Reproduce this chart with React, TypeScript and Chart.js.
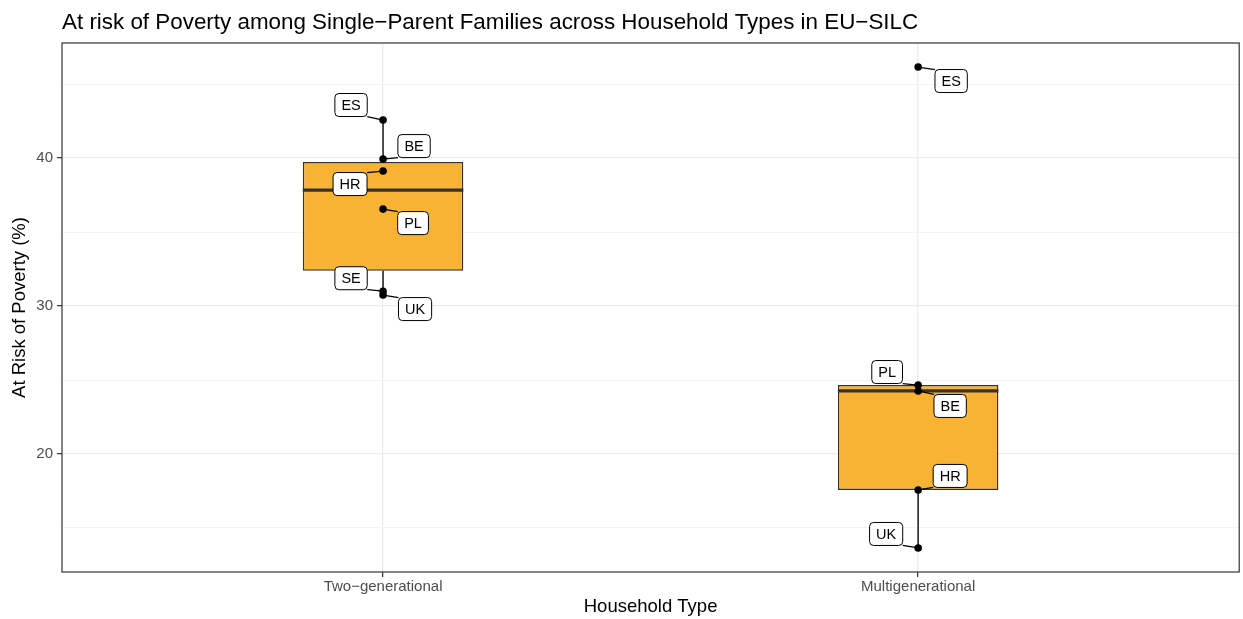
import React, { useEffect, useRef } from "react";
import { Chart, registerables } from "chart.js";

Chart.register(...registerables);

// Household types on the x axis (positions 1 and 2)
const householdTypes = ["Two\u2212generational", "Multigenerational"];

// At-risk-of-poverty rate (%) per country, two-generational households
const twoGenCountries = ["ES", "BE", "HR", "PL", "SE", "UK"];
const twoGenValues = [42.57, 39.93, 39.12, 36.55, 31.0, 30.74];

// At-risk-of-poverty rate (%) per country, multigenerational households
const multiGenCountries = ["ES", "PL", "BE", "HR", "UK"];
const multiGenValues = [46.15, 24.66, 24.26, 17.57, 13.65];

// y-axis breaks: labelled every 10, minor grid every 5
const yBreaks = [15, 20, 25, 30, 35, 40, 45];
const yLabelStep = 10;

// Label nudges (px) for each country label, in the same order as the values
const twoGenLabelNudge = [[-32, -15], [31, -13], [-33, 13], [30, 14], [-32, -13], [32, 14]];
const multiGenLabelNudge = [[33, 14], [-31, -13], [32, 15], [32, -14], [-32, -14]];

const FONT = "'Liberation Sans', Arial, Helvetica, sans-serif";
const BOX_WIDTH = 0.3;
const BOX_FILL = "#F8B234";
const DARK = "#333333";

// Type-7 quantile (same as R's default)
function quantile(sorted: number[], p: number): number {
  const h = (sorted.length - 1) * p;
  const lo = Math.floor(h);
  const hi = Math.ceil(h);
  return sorted[lo] + (h - lo) * (sorted[hi] - sorted[lo]);
}

function boxStats(values: number[]) {
  const s = [...values].sort((a, b) => a - b);
  const q1 = quantile(s, 0.25);
  const med = quantile(s, 0.5);
  const q3 = quantile(s, 0.75);
  const iqr = q3 - q1;
  const inside = s.filter((v) => v >= q1 - 1.5 * iqr && v <= q3 + 1.5 * iqr);
  return { q1, med, q3, lo: Math.min(...inside), hi: Math.max(...inside) };
}

export default function App() {
  const canvasRef = useRef<HTMLCanvasElement | null>(null);

  useEffect(() => {
    if (!canvasRef.current) return;

    const groups = [
      { x: 1, countries: twoGenCountries, values: twoGenValues, nudge: twoGenLabelNudge },
      { x: 2, countries: multiGenCountries, values: multiGenValues, nudge: multiGenLabelNudge },
    ];
    const stats = groups.map((g) => boxStats(g.values));

    const allValues = [...twoGenValues, ...multiGenValues];
    const yLo = Math.min(...allValues);
    const yHi = Math.max(...allValues);
    const yPad = (yHi - yLo) * 0.05;

    const boxData = groups.map((g, i) => ({ x: g.x, y: [stats[i].q1, stats[i].q3] }));

    const whiskerData: any[] = [];
    groups.forEach((g, i) => {
      whiskerData.push({ x: g.x, y: stats[i].hi }, { x: g.x, y: stats[i].q3 }, { x: g.x, y: null });
      whiskerData.push({ x: g.x, y: stats[i].q1 }, { x: g.x, y: stats[i].lo }, { x: g.x, y: null });
    });

    const medianData: any[] = [];
    groups.forEach((g, i) => {
      medianData.push(
        { x: g.x - BOX_WIDTH / 2, y: stats[i].med },
        { x: g.x + BOX_WIDTH / 2, y: stats[i].med },
        { x: g.x, y: null }
      );
    });

    const pointData: any[] = [];
    groups.forEach((g) => {
      g.values.forEach((v, j) => {
        pointData.push({ x: g.x, y: v, country: g.countries[j], nudge: g.nudge[j] });
      });
    });

    const titlePlugin = {
      id: "plotTitle",
      afterDraw(chart: any) {
        const { ctx, chartArea } = chart;
        ctx.save();
        ctx.font = `22.4px ${FONT}`;
        ctx.fillStyle = "#000000";
        ctx.textAlign = "left";
        ctx.textBaseline = "alphabetic";
        ctx.fillText(
          "At risk of Poverty among Single\u2212Parent Families across Household Types in EU\u2212SILC",
          chartArea.left,
          29
        );
        ctx.restore();
      },
    };

    const panelBorderPlugin = {
      id: "panelBorder",
      afterDraw(chart: any) {
        const { ctx, chartArea } = chart;
        ctx.save();
        ctx.strokeStyle = DARK;
        ctx.lineWidth = 1.2;
        ctx.strokeRect(
          chartArea.left,
          chartArea.top,
          chartArea.right - chartArea.left,
          chartArea.bottom - chartArea.top
        );
        ctx.restore();
      },
    };

    const repelLabelPlugin = {
      id: "countryLabels",
      afterDatasetsDraw(chart: any) {
        const { ctx } = chart;
        const meta = chart.getDatasetMeta(0);
        const data = chart.data.datasets[0].data as any[];
        ctx.save();
        ctx.font = `14.5px ${FONT}`;
        meta.data.forEach((el: any, i: number) => {
          const d = data[i];
          const px = el.x;
          const py = el.y;
          const cx = px + d.nudge[0];
          const cy = py + d.nudge[1];
          const w = ctx.measureText(d.country).width + 13;
          const h = 23;
          const left = cx - w / 2;
          const top = cy - h / 2;
          // leader segment to the nearest edge point of the label box
          const ex = Math.max(left, Math.min(px, left + w));
          const ey = Math.max(top, Math.min(py, top + h));
          ctx.beginPath();
          ctx.moveTo(px, py);
          ctx.lineTo(ex, ey);
          ctx.strokeStyle = "#000000";
          ctx.lineWidth = 1.3;
          ctx.stroke();
          // label box
          ctx.beginPath();
          ctx.roundRect(left, top, w, h, 4);
          ctx.fillStyle = "#FFFFFF";
          ctx.fill();
          ctx.strokeStyle = "#000000";
          ctx.lineWidth = 1;
          ctx.stroke();
          ctx.fillStyle = "#000000";
          ctx.textAlign = "center";
          ctx.textBaseline = "middle";
          ctx.fillText(d.country, cx, cy + 1);
        });
        ctx.restore();
      },
    };

    const chart = new Chart(canvasRef.current, {
      type: "bar",
      data: {
        datasets: [
          {
            type: "line",
            label: "points",
            data: pointData,
            showLine: false,
            pointRadius: 3.8,
            pointHoverRadius: 3.8,
            pointBackgroundColor: "#000000",
            pointBorderColor: "#000000",
            pointBorderWidth: 0,
            order: 0,
          } as any,
          {
            type: "line",
            label: "median",
            data: medianData,
            borderColor: DARK,
            borderWidth: 3.2,
            pointRadius: 0,
            spanGaps: false,
            order: 1,
          } as any,
          {
            type: "bar",
            label: "box",
            data: boxData,
            backgroundColor: BOX_FILL,
            borderColor: DARK,
            borderWidth: 1.5,
            borderSkipped: false,
            barPercentage: BOX_WIDTH,
            categoryPercentage: 1,
            order: 2,
          } as any,
          {
            type: "line",
            label: "whiskers",
            data: whiskerData,
            borderColor: "#1a1a1a",
            borderWidth: 1.5,
            pointRadius: 0,
            spanGaps: false,
            order: 3,
          } as any,
        ],
      },
      options: {
        animation: false,
        responsive: false,
        maintainAspectRatio: false,
        layout: { padding: { top: 43, right: 2, bottom: 0, left: 0 } },
        plugins: {
          legend: { display: false },
          tooltip: { enabled: false },
          title: { display: false },
        },
        scales: {
          x: {
            type: "linear",
            min: 0.4,
            max: 2.6,
            offset: false,
            afterBuildTicks(axis: any) {
              axis.ticks = householdTypes.map((_, i) => ({ value: i + 1 }));
            },
            afterFit(axis: any) {
              axis.height = 47;
            },
            ticks: {
              autoSkip: false,
              maxRotation: 0,
              padding: 1,
              color: "#4D4D4D",
              font: { family: FONT, size: 15 },
              callback: (v: any) => householdTypes[Number(v) - 1] ?? "",
            },
            grid: {
              offset: false,
              color: "#EBEBEB",
              lineWidth: 1.3,
              drawTicks: true,
              tickLength: 5,
              tickColor: DARK,
              tickWidth: 1.2,
            },
            border: { display: false },
            title: {
              display: true,
              text: "Household Type",
              color: "#000000",
              font: { family: FONT, size: 18.5 },
              padding: { top: 0, bottom: 1 },
            },
          },
          y: {
            type: "linear",
            min: yLo - yPad,
            max: yHi + yPad,
            afterBuildTicks(axis: any) {
              axis.ticks = yBreaks.map((v) => ({ value: v }));
            },
            afterFit(axis: any) {
              axis.width = 62;
            },
            ticks: {
              autoSkip: false,
              padding: 4,
              color: "#4D4D4D",
              font: { family: FONT, size: 15 },
              callback: (v: any) => (Number(v) % yLabelStep === 0 ? String(v) : ""),
            },
            grid: {
              color: (c: any) => (c.tick && c.tick.value % yLabelStep === 0 ? "#EBEBEB" : "#F3F3F3"),
              lineWidth: (c: any) => (c.tick && c.tick.value % yLabelStep === 0 ? 1.3 : 1),
              drawTicks: true,
              tickLength: 5,
              tickColor: (c: any) => (c.tick && c.tick.value % yLabelStep === 0 ? DARK : "rgba(0,0,0,0)"),
              tickWidth: 1.2,
            },
            border: { display: false },
            title: {
              display: true,
              text: "At Risk of Poverty (%)",
              color: "#000000",
              font: { family: FONT, size: 18.5 },
              padding: { top: 9, bottom: 0 },
            },
          },
        },
      },
      plugins: [titlePlugin, panelBorderPlugin, repelLabelPlugin],
    });

    return () => chart.destroy();
  }, []);

  return (
    <div style={{ position: "absolute", left: 0, top: 0, width: 1243, height: 619, background: "#FFFFFF" }}>
      <canvas ref={canvasRef} width={1243} height={619} />
    </div>
  );
}
